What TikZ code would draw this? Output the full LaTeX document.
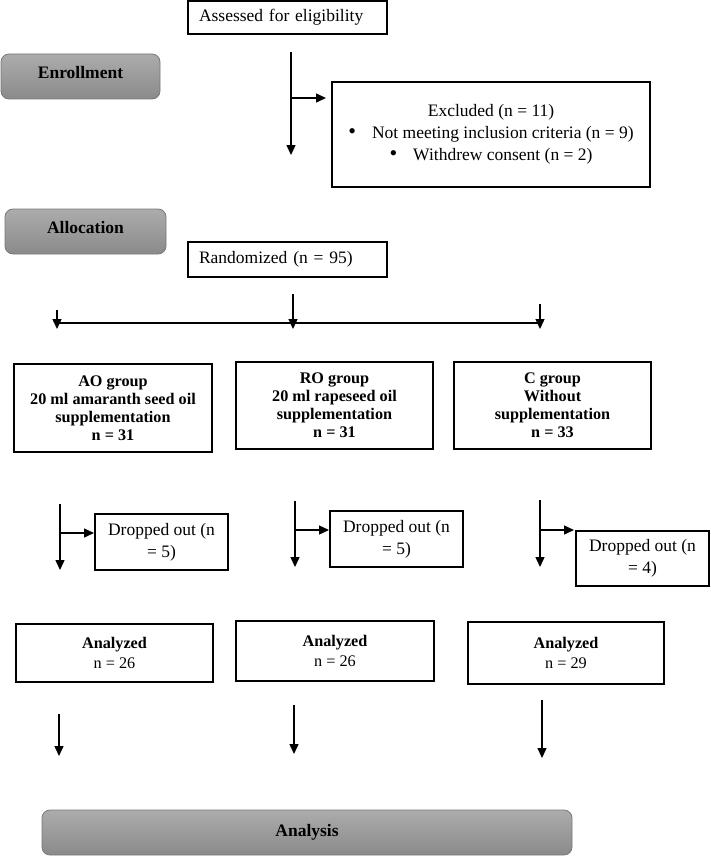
\documentclass[tikz,border=0pt]{standalone}
\usepackage{fontspec}
\setmainfont{Liberation Serif}
\usetikzlibrary{arrows.meta}
\definecolor{phasetop}{RGB}{172,172,172}
\definecolor{phasebot}{RGB}{138,138,138}
\definecolor{phaseline}{RGB}{120,120,120}
\newcommand{\bigbul}{{\fontsize{22}{22}\selectfont\textbullet}}
\begin{document}
\begin{tikzpicture}[x=1pt,y=-1pt,
  plainbox/.style={draw=black, line width=1.8pt, fill=white, inner sep=0pt, align=center,
    font=\fontsize{17.5}{22}\selectfont},
  leftbox/.style={plainbox, inner xsep=11pt, text width=177pt, align=left, minimum width=199pt},
  groupbox/.style={plainbox, font=\bfseries\fontsize{16.2}{18}\selectfont},
  anbox/.style={plainbox, font=\fontsize{16.2}{20}\selectfont},
  phasebox/.style={draw=phaseline, line width=0.8pt, rounded corners=8pt, top color=phasetop,
    bottom color=phasebot, inner sep=0pt, font=\bfseries\fontsize{17.5}{21}\selectfont},
  arr/.style={line width=1.4pt, -{Triangle[length=10pt,width=9pt]}},
  ln/.style={line width=1.4pt}
]
\useasboundingbox (0,0) rectangle (710,856);

% boxes
\node[leftbox, minimum height=33pt] (assess) at (287.5,17.5) {Assessed for eligibility};
\node[phasebox, minimum width=159pt, minimum height=45pt, text depth=8pt] (enroll) at (80.5,76.5) {Enrollment};
\node[plainbox, minimum width=318pt, minimum height=105pt] (excl) at (491,134.5)
  {Excluded (n = 11)\\\bigbul\hspace{16pt}Not meeting inclusion criteria (n = 9)\\\bigbul\hspace{16pt}Withdrew consent (n = 2)};
\node[phasebox, minimum width=161pt, minimum height=45pt, text depth=8pt] (alloc) at (85.5,231.5) {Allocation};
\node[leftbox, minimum height=35pt] (rand) at (287.5,259.5) {Randomized (n = 95)};

\node[groupbox, minimum width=198pt, minimum height=88pt] (ao) at (113,408)
  {AO group\\20 ml amaranth seed oil\\supplementation\\n = 31};
\node[groupbox, minimum width=197pt, minimum height=87pt] (ro) at (334.5,405.5)
  {RO group\\20 ml rapeseed oil\\supplementation\\n = 31};
\node[groupbox, minimum width=197pt, minimum height=87pt] (cg) at (552.5,405.5)
  {C group\\Without\\supplementation\\n = 33};

\node[plainbox, minimum width=133pt, minimum height=56pt] (d1) at (161.5,542) {Dropped out (n\\= 5)};
\node[plainbox, minimum width=133pt, minimum height=56pt] (d2) at (396.5,539) {Dropped out (n\\= 5)};
\node[plainbox, minimum width=133pt, minimum height=55pt] (d3) at (642.5,558.5) {Dropped out (n\\= 4)};

\node[anbox, minimum width=197pt, minimum height=58pt] (an1) at (114.5,653) {\textbf{Analyzed}\\n = 26};
\node[anbox, minimum width=198pt, minimum height=60pt] (an2) at (335,651) {\textbf{Analyzed}\\n = 26};
\node[anbox, minimum width=196pt, minimum height=62pt] (an3) at (566,653) {\textbf{Analyzed}\\n = 29};

\node[phasebox, minimum width=530pt, minimum height=45pt] (analysis) at (307,832.5) {Analysis};

% arrow end points
\coordinate (e1s) at (291,52);  \coordinate (e1e) at (291,155);
\coordinate (e2s) at (292,98);  \coordinate (e2e) at (326,98);

\coordinate (hl) at (57,323);   \coordinate (hr) at (540,323);
\coordinate (r1s) at (57,310);  \coordinate (r1e) at (57,329);
\coordinate (r2s) at (293,294); \coordinate (r2e) at (293,329);
\coordinate (r3s) at (540,304); \coordinate (r3e) at (540,329);

\coordinate (a1s) at (60,504);  \coordinate (a1e) at (60,570);
\coordinate (b1s) at (61,533);  \coordinate (b1e) at (94,533);
\coordinate (a2s) at (295,501); \coordinate (a2e) at (295,567);
\coordinate (b2s) at (296,530); \coordinate (b2e) at (329,530);
\coordinate (a3s) at (540,500); \coordinate (a3e) at (540,567);
\coordinate (b3s) at (541,530); \coordinate (b3e) at (574,530);

\coordinate (f1s) at (59,714);  \coordinate (f1e) at (59,756);
\coordinate (f2s) at (294,705); \coordinate (f2e) at (294,754);
\coordinate (f3s) at (542,700); \coordinate (f3e) at (542,758);

% connectors
\draw[arr] (e1s) -- (e1e);
\draw[arr] (e2s) -- (e2e);
\draw[ln] (hl) -- (hr);
\draw[arr] (r1s) -- (r1e);
\draw[arr] (r2s) -- (r2e);
\draw[arr] (r3s) -- (r3e);
\draw[arr] (a1s) -- (a1e);
\draw[arr] (b1s) -- (b1e);
\draw[arr] (a2s) -- (a2e);
\draw[arr] (b2s) -- (b2e);
\draw[arr] (a3s) -- (a3e);
\draw[arr] (b3s) -- (b3e);
\draw[arr] (f1s) -- (f1e);
\draw[arr] (f2s) -- (f2e);
\draw[arr] (f3s) -- (f3e);
\end{tikzpicture}
\end{document}
